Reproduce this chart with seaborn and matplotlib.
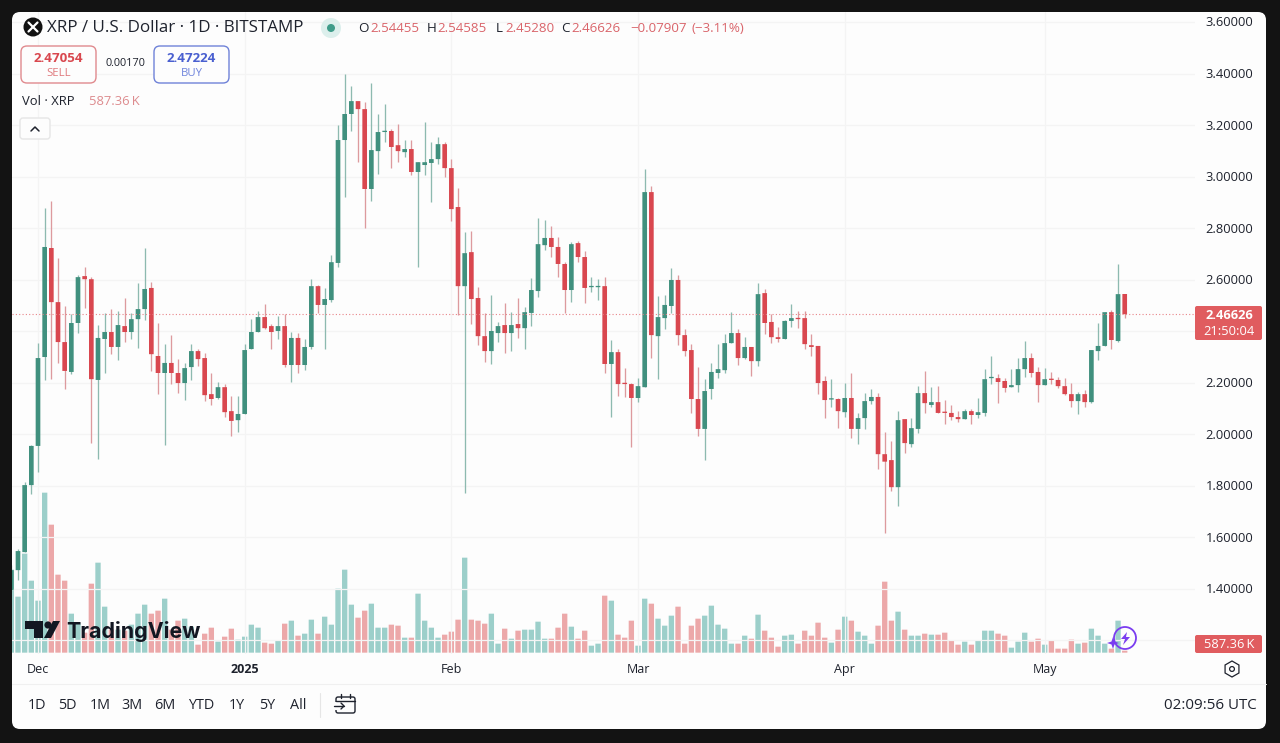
import numpy as np
import pandas as pd
import matplotlib
matplotlib.use('Agg')
import matplotlib.pyplot as plt
import seaborn as sns
from matplotlib.patches import FancyBboxPatch, Circle, Polygon, RegularPolygon

# daily XRP/USD candles
dates = pd.date_range('2024-11-27', '2025-05-13')

opens = [
    1.396, 1.473, 1.543, 1.803, 1.955, 2.300, 2.723, 2.513, 2.358, 2.242,
    2.432, 2.614, 2.602, 2.211, 2.370, 2.397, 2.339, 2.420, 2.397, 2.447,
    2.486, 2.568, 2.304, 2.238, 2.277, 2.238, 2.199, 2.261, 2.323, 2.296,
    2.156, 2.141, 2.183, 2.090, 2.055, 2.079, 2.331, 2.397, 2.455, 2.420,
    2.401, 2.420, 2.269, 2.374, 2.269, 2.339, 2.575, 2.502, 2.521, 2.665,
    3.142, 3.243, 3.293, 3.262, 2.952, 3.099, 3.173, 3.177, 3.122, 3.095,
    3.107, 3.018, 3.045, 3.053, 3.068, 3.126, 3.033, 2.882, 2.575, 2.707,
    2.529, 2.381, 2.323, 2.393, 2.424, 2.393, 2.428, 2.412, 2.471, 2.556,
    2.734, 2.762, 2.727, 2.661, 2.560, 2.742, 2.688, 2.571, 2.571, 2.575,
    2.273, 2.319, 2.199, 2.195, 2.141, 2.183, 2.940, 2.381, 2.451, 2.498,
    2.599, 2.385, 2.327, 2.137, 2.021, 2.176, 2.238, 2.249, 2.354, 2.393,
    2.296, 2.339, 2.284, 2.548, 2.436, 2.377, 2.370, 2.440, 2.451, 2.451,
    2.346, 2.343, 2.207, 2.135, 2.137, 2.086, 2.141, 2.021, 2.063, 2.129,
    2.145, 1.923, 1.900, 1.795, 2.059, 1.962, 2.021, 2.160, 2.114, 2.125,
    2.086, 2.083, 2.067, 2.059, 2.090, 2.075, 2.083, 2.218, 2.218, 2.207,
    2.183, 2.191, 2.253, 2.296, 2.242, 2.191, 2.214, 2.211, 2.187, 2.156,
    2.129, 2.156, 2.125, 2.323, 2.343, 2.474, 2.362, 2.54455,
]
closes = [
    1.473, 1.547, 1.803, 1.955, 2.296, 2.727, 2.513, 2.358, 2.246, 2.432,
    2.610, 2.602, 2.214, 2.374, 2.397, 2.339, 2.424, 2.397, 2.447, 2.486,
    2.564, 2.311, 2.238, 2.277, 2.238, 2.199, 2.257, 2.323, 2.292, 2.152,
    2.137, 2.183, 2.086, 2.052, 2.079, 2.327, 2.397, 2.455, 2.412, 2.397,
    2.420, 2.269, 2.374, 2.269, 2.339, 2.575, 2.502, 2.525, 2.668, 3.142,
    3.243, 3.293, 3.262, 2.952, 3.103, 3.173, 3.177, 3.115, 3.099, 3.107,
    3.018, 3.056, 3.056, 3.068, 3.126, 3.033, 2.874, 2.575, 2.703, 2.525,
    2.381, 2.323, 2.401, 2.420, 2.393, 2.424, 2.412, 2.474, 2.560, 2.738,
    2.762, 2.727, 2.661, 2.560, 2.738, 2.688, 2.568, 2.575, 2.575, 2.273,
    2.319, 2.195, 2.195, 2.141, 2.187, 2.940, 2.385, 2.455, 2.502, 2.599,
    2.385, 2.323, 2.137, 2.021, 2.168, 2.242, 2.253, 2.354, 2.393, 2.296,
    2.339, 2.284, 2.544, 2.432, 2.377, 2.370, 2.440, 2.451, 2.447, 2.350,
    2.339, 2.199, 2.133, 2.137, 2.090, 2.141, 2.021, 2.063, 2.129, 2.145,
    1.923, 1.894, 1.795, 2.055, 1.966, 2.024, 2.160, 2.121, 2.125, 2.083,
    2.083, 2.067, 2.059, 2.090, 2.075, 2.086, 2.214, 2.222, 2.203, 2.180,
    2.191, 2.253, 2.296, 2.238, 2.191, 2.214, 2.211, 2.187, 2.156, 2.129,
    2.156, 2.125, 2.327, 2.343, 2.474, 2.366, 2.544, 2.46626,
]
highs = [
    1.493, 1.555, 1.815, 1.958, 2.354, 2.878, 2.905, 2.684, 2.498, 2.467,
    2.618, 2.649, 2.610, 2.424, 2.471, 2.486, 2.478, 2.529, 2.471, 2.587,
    2.723, 2.591, 2.432, 2.350, 2.385, 2.292, 2.277, 2.350, 2.331, 2.315,
    2.238, 2.203, 2.195, 2.149, 2.149, 2.350, 2.447, 2.478, 2.505, 2.428,
    2.459, 2.467, 2.397, 2.393, 2.370, 2.602, 2.579, 2.568, 2.696, 3.200,
    3.398, 3.351, 3.293, 3.289, 3.363, 3.243, 3.281, 3.184, 3.204, 3.142,
    3.142, 3.056, 3.212, 3.134, 3.153, 3.134, 3.068, 2.956, 2.785, 2.789,
    2.571, 2.471, 2.540, 2.436, 2.509, 2.474, 2.529, 2.494, 2.606, 2.839,
    2.831, 2.808, 2.765, 2.668, 2.746, 2.750, 2.711, 2.610, 2.602, 2.610,
    2.366, 2.331, 2.257, 2.199, 2.218, 3.029, 2.963, 2.537, 2.540, 2.645,
    2.618, 2.409, 2.350, 2.261, 2.214, 2.277, 2.350, 2.389, 2.474, 2.409,
    2.377, 2.339, 2.587, 2.564, 2.467, 2.416, 2.443, 2.505, 2.478, 2.478,
    2.389, 2.343, 2.226, 2.214, 2.141, 2.199, 2.238, 2.083, 2.160, 2.176,
    2.160, 2.009, 1.974, 2.090, 2.059, 2.063, 2.187, 2.246, 2.183, 2.187,
    2.133, 2.114, 2.090, 2.098, 2.098, 2.141, 2.253, 2.304, 2.234, 2.218,
    2.253, 2.296, 2.362, 2.315, 2.261, 2.257, 2.242, 2.222, 2.218, 2.199,
    2.164, 2.172, 2.327, 2.432, 2.474, 2.482, 2.661, 2.54585,
]
lows = [
    1.390, 1.435, 1.543, 1.768, 1.854, 2.211, 2.214, 2.277, 2.176, 2.234,
    2.393, 2.490, 1.966, 1.904, 2.238, 2.311, 2.288, 2.358, 2.370, 2.335,
    2.443, 2.246, 2.156, 1.958, 2.195, 2.160, 2.133, 2.211, 2.265, 2.129,
    2.114, 2.137, 2.067, 1.993, 2.009, 2.079, 2.331, 2.397, 2.409, 2.331,
    2.370, 2.261, 2.203, 2.238, 2.249, 2.331, 2.471, 2.331, 2.513, 2.649,
    2.921, 3.177, 3.056, 2.800, 2.905, 3.010, 3.134, 3.033, 3.056, 3.076,
    3.006, 2.649, 3.006, 2.901, 3.049, 2.998, 2.827, 2.463, 1.772, 2.428,
    2.346, 2.280, 2.273, 2.358, 2.315, 2.323, 2.374, 2.331, 2.420, 2.533,
    2.715, 2.688, 2.610, 2.471, 2.513, 2.668, 2.509, 2.552, 2.521, 2.238,
    2.067, 2.149, 2.145, 1.951, 2.125, 2.183, 2.296, 2.214, 2.409, 2.471,
    2.346, 2.304, 2.083, 1.993, 1.900, 2.137, 2.218, 2.238, 2.354, 2.269,
    2.292, 2.226, 2.265, 2.389, 2.354, 2.358, 2.370, 2.416, 2.412, 2.331,
    2.304, 2.156, 2.063, 2.106, 2.024, 2.067, 1.986, 1.962, 2.021, 2.117,
    1.865, 1.617, 1.780, 1.722, 1.927, 1.951, 2.005, 2.083, 2.106, 2.083,
    2.040, 2.055, 2.048, 2.059, 2.040, 2.063, 2.071, 2.195, 2.121, 2.164,
    2.183, 2.164, 2.222, 2.222, 2.125, 2.191, 2.195, 2.180, 2.152, 2.106,
    2.079, 2.106, 2.121, 2.288, 2.343, 2.331, 2.358, 2.4528,
]
# volume in millions of XRP
volumes = [
    24.9, 16.8, 29.7, 21.6, 15.6, 48.0, 38.4, 23.4, 21.6, 11.7,
    8.7, 6.0, 20.7, 27.0, 13.8, 6.9, 6.9, 6.6, 8.4, 11.7,
    14.4, 11.7, 12.6, 16.2, 6.9, 9.6, 10.2, 7.8, 2.4, 5.7,
    7.5, 3.3, 4.8, 7.2, 3.9, 4.8, 8.4, 7.5, 3.0, 2.7,
    3.6, 8.7, 9.6, 5.1, 5.7, 9.9, 5.7, 10.8, 8.4, 19.2,
    24.9, 14.4, 10.5, 12.6, 14.7, 7.5, 7.5, 8.4, 8.1, 4.5,
    4.5, 17.7, 9.6, 7.5, 4.5, 5.4, 6.3, 9.9, 28.5, 9.9,
    9.6, 8.7, 11.7, 2.7, 7.2, 4.2, 6.6, 6.9, 6.9, 9.3,
    4.2, 4.2, 7.5, 11.7, 7.8, 4.2, 6.6, 2.1, 2.7, 17.1,
    15.6, 5.4, 4.5, 9.6, 2.1, 16.2, 14.7, 10.2, 8.1, 11.1,
    13.8, 2.7, 8.1, 10.2, 11.1, 14.1, 8.4, 7.2, 2.7, 2.7,
    5.1, 4.2, 11.4, 6.6, 4.5, 1.8, 5.1, 5.4, 2.7, 6.6,
    5.1, 9.0, 4.5, 3.0, 6.9, 10.8, 9.6, 6.3, 5.1, 2.7,
    8.1, 21.3, 9.6, 12.3, 6.9, 5.1, 5.1, 5.7, 5.4, 5.4,
    6.0, 3.6, 2.4, 3.3, 2.4, 3.6, 6.6, 6.6, 5.7, 5.1,
    1.5, 3.3, 6.0, 3.3, 4.2, 2.4, 3.6, 1.2, 1.2, 3.9,
    2.7, 3.0, 7.2, 5.1, 2.7, 1.2, 9.6, 0.587,
]

price_ticks = [3.6, 3.4, 3.2, 3.0, 2.8, 2.6, 2.2, 2.0, 1.8, 1.6, 1.4]
grid_prices = [3.6, 3.4, 3.2, 3.0, 2.8, 2.6, 2.4, 2.2, 2.0, 1.8, 1.6, 1.4, 1.2]
month_dates = ['2024-12-01', '2025-01-01', '2025-02-01', '2025-03-01', '2025-04-01', '2025-05-01']
month_labels = ['Dec', '2025', 'Feb', 'Mar', 'Apr', 'May']
range_buttons = ['1D', '5D', '1M', '3M', '6M', 'YTD', '1Y', '5Y', 'All']
last_price = 2.46626

GREEN, RED = '#40907e', '#d9474f'
WICK_GREEN, WICK_RED = '#8dbab0', '#dd9a9e'
VOL_GREEN, VOL_RED = '#9ccfca', '#eca8a9'
TAG_RED = '#e05c5f'
TEXT = '#1e222d'

sns.set_theme(style='white', rc={'axes.grid': False})
plt.rcParams['font.family'] = ['Open Sans', 'DejaVu Sans']

W, H = 1280, 743
# pixel box of the plot pane
LEFT, RIGHT, TOP, BOTTOM = 12, 1195, 12, 654

df = pd.DataFrame({'open': opens, 'high': highs, 'low': lows, 'close': closes, 'volume': volumes}, index=dates)
df['day'] = (df.index - pd.Timestamp('2024-12-01')).days
df['direction'] = np.where(df['close'] >= df['open'], 'up', 'down')

fig = plt.figure(figsize=(W / 100, H / 100), dpi=100, facecolor='#131313')
pane = [LEFT / W, 1 - BOTTOM / H, (RIGHT - LEFT) / W, (BOTTOM - TOP) / H]

# rounded white card behind everything
bg = fig.add_axes([0, 0, 1, 1], zorder=0)
bg.set_xlim(0, W)
bg.set_ylim(H, 0)
bg.axis('off')
bg.add_patch(FancyBboxPatch((12, 12), 1254, 717, boxstyle='round,pad=0,rounding_size=8', fc='#fdfdfd', ec='none'))
bg.plot([12, 1266], [684, 684], color='#f0f0f0', lw=0.8)
bg.plot([320, 320], [693, 717], color='#e6e6e6', lw=0.8)

x_lim = ((LEFT - 38) / 6.667, (RIGHT - 38) / 6.667)
month_days = [(pd.Timestamp(d) - pd.Timestamp('2024-12-01')).days for d in month_dates]

# volume pane sits under the candles, same box
ax_vol = fig.add_axes(pane, zorder=1)
ax_vol.patch.set_alpha(0)
sns.barplot(data=df, x='day', y='volume', hue='direction', hue_order=['up', 'down'],
            palette={'up': VOL_GREEN, 'down': VOL_RED}, native_scale=True, dodge=False,
            width=0.8, saturation=1, errorbar=None, legend=False, linewidth=0, ax=ax_vol)
ax_vol.set_xlim(*x_lim)
ax_vol.set_ylim(-0.4, 192.2)
ax_vol.axis('off')
for patch in ax_vol.patches:
    patch.set_snap(False)

ax = fig.add_axes(pane, zorder=2)
ax.patch.set_alpha(0)
ax.set_xlim(*x_lim)
ax.set_ylim(1.1476, 3.6388)
for p in grid_prices:
    ax.axhline(p, color='#f4f4f4', lw=0.9, zorder=0)
for d in month_days:
    ax.axvline(d, color='#f4f4f4', lw=0.9, zorder=0)

up = df['direction'] == 'up'
ax.vlines(df.loc[up, 'day'], df.loc[up, 'low'], df.loc[up, 'high'], color=WICK_GREEN, lw=0.95, zorder=2)
ax.vlines(df.loc[~up, 'day'], df.loc[~up, 'low'], df.loc[~up, 'high'], color=WICK_RED, lw=0.95, zorder=2)
body_low = df[['open', 'close']].min(axis=1)
body_size = (df['close'] - df['open']).abs().clip(lower=0.005)
ax.bar(df.loc[up, 'day'], body_size[up], bottom=body_low[up], width=0.7, color=GREEN, lw=0, zorder=3)
ax.bar(df.loc[~up, 'day'], body_size[~up], bottom=body_low[~up], width=0.7, color=RED, lw=0, zorder=3)
for patch in ax.patches:
    patch.set_snap(False)
ax.axhline(last_price, color='#e8858a', lw=0.8, ls=(0, (1, 2)), zorder=4)
ax.axis('off')

# everything on top of the chart is placed in screen pixels
ov = fig.add_axes([0, 0, 1, 1], zorder=5)
ov.patch.set_alpha(0)
ov.set_xlim(0, W)
ov.set_ylim(H, 0)
ov.axis('off')


def label(x, y, s, size=9.5, color=TEXT, ha='left', weight='normal', family=None):
    kw = {'family': family} if family else {}
    ov.text(x, y + 1, s, fontsize=size, color=color, ha=ha, va='center', fontweight=weight, **kw)


def box(x0, y0, x1, y1, r, fc, ec, lw=1.0):
    ov.add_patch(FancyBboxPatch((x0, y0), x1 - x0, y1 - y0, boxstyle=f'round,pad=0,rounding_size={r}',
                                fc=fc, ec=ec, lw=lw))


# header
ov.add_patch(Circle((33, 27), 9.5, fc='#111111', ec='none'))
ov.plot([28.5, 37.5], [22.5, 31.5], color='white', lw=1.6)
ov.plot([28.5, 37.5], [31.5, 22.5], color='white', lw=1.6)
label(47, 27.5, 'XRP / U.S. Dollar · 1D · BITSTAMP', size=12.25)
ov.add_patch(Circle((331, 28), 10, fc='#dcefec', ec='none'))
ov.add_patch(Circle((331, 28), 4, fc='#3f9c8a', ec='none'))

ohlc_red = '#d9646a'
for x, s, col in [(358, 'O', TEXT), (370, '2.54455', ohlc_red), (427, 'H', TEXT), (437, '2.54585', ohlc_red),
                  (496, 'L', TEXT), (505, '2.45280', ohlc_red), (561, 'C', TEXT), (571, '2.46626', ohlc_red),
                  (630, '\u22120.07907', ohlc_red), (692, '(\u22123.11%)', ohlc_red)]:
    label(x, 27.5, s, size=9.6, color=col)

# sell / buy
box(21, 46, 96, 83, 6, '#fdfdfd', '#e08a8e')
label(58.5, 57, '2.47054', size=9.6, color='#d9484f', ha='center', weight='bold')
label(58.5, 72.5, 'SELL', size=8.2, color='#e07a7e', ha='center')
label(125, 62.5, '0.00170', size=7.8, ha='center')
box(154, 46, 229, 83, 6, '#fdfdfd', '#6f82d8')
label(191.5, 57, '2.47224', size=9.6, color='#4a60d0', ha='center', weight='bold')
label(191.5, 72.5, 'BUY', size=8.2, color='#6f84dc', ha='center')

label(22, 100.5, 'Vol · XRP', size=9.4)
label(89, 100.5, '587.36\u2009K', size=9.4, color='#dd8b8e')
box(20, 118, 50, 139, 3, '#fdfdfd', '#e6e6e6')
ov.plot([31, 35, 39], [131, 127, 131], color=TEXT, lw=1.1)

# price scale labels, same mapping as the candle axes
for p in price_ticks:
    y = ax.transData.transform((0, p))[1]
    label(1229.5, H - y, f'{p:.5f}', size=9.3, ha='center')

box(1195, 306, 1262, 340, 2, TAG_RED, 'none', lw=0)
label(1229, 314.5, '2.46626', size=9.3, color='white', ha='center', weight='bold')
label(1229, 330.5, '21:50:04', size=9.3, color='white', ha='center')
box(1195, 635, 1262, 653, 2, TAG_RED, 'none', lw=0)
label(1229, 643.5, '587.36\u2009K', size=9.3, color='white', ha='center')

# time axis
for d, s in zip(month_days, month_labels):
    x = ax.transData.transform((d, 2))[0]
    label(x, 668.5, s, size=9.0, ha='center', weight='bold' if s == '2025' else 'normal')
ov.add_patch(RegularPolygon((1232, 669), 6, radius=8, fc='none', ec=TEXT, lw=0.9))
ov.add_patch(Circle((1232, 669), 2.4, fc='none', ec=TEXT, lw=0.9))

# toolbar
for x, s in zip([37, 67, 100, 132, 165, 201, 237, 267, 298], range_buttons):
    label(x, 704.5, s, size=10.4, ha='center')
box(336, 697, 355, 713, 2, 'none', TEXT, lw=1.0)
ov.plot([336, 355], [701, 701], color=TEXT, lw=1.0)
ov.plot([341, 341], [694, 698], color=TEXT, lw=1.0)
ov.plot([350, 350], [694, 698], color=TEXT, lw=1.0)
ov.add_patch(Polygon([(333, 702), (345, 702), (345, 710), (333, 710)], fc='#fdfdfd', ec='none'))
ov.plot([334, 344], [706, 706], color=TEXT, lw=1.0)
ov.plot([341, 344, 341], [703, 706, 709], color=TEXT, lw=1.0)
label(1257, 704.5, '02:09:56 UTC', size=10.9, ha='right')

# TradingView watermark
ov.add_patch(Polygon([(25, 621), (43, 621), (43, 638), (34, 638), (34, 629), (25, 629)], fc='#131722', ec='none'))
ov.add_patch(Circle((48, 625), 3.6, fc='#131722', ec='none'))
ov.add_patch(Polygon([(53, 621), (60, 621), (51, 638), (44, 638)], fc='#131722', ec='none'))
label(66, 630, 'TradingView', size=15.4, color='#131722', weight='bold', family='Inter')

# the purple lightning badge
ov.add_patch(Circle((1125, 638), 11, fc='none', ec='#7a3df0', lw=1.3))
ov.add_patch(Polygon([(1127, 632), (1121, 639), (1125, 639), (1123, 645), (1130, 637), (1126, 637)], fc='#7a3df0', ec='none'))
ov.add_patch(Polygon([(1113, 637), (1114.5, 641.5), (1119, 643), (1114.5, 644.5), (1113, 649), (1111.5, 644.5),
                      (1107, 643), (1111.5, 641.5)], fc='#7a3df0', ec='none'))

fig.savefig('out.png', dpi=100, facecolor=fig.get_facecolor())
